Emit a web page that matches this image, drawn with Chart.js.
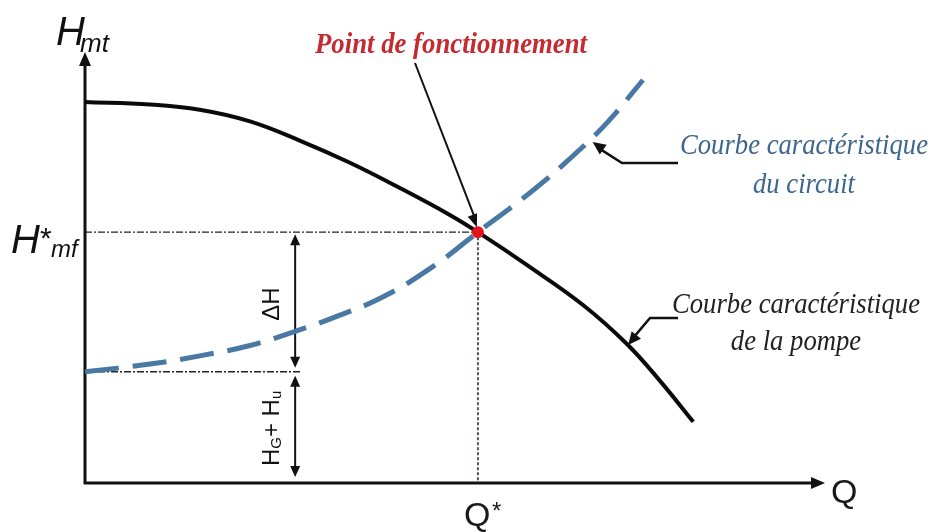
<!DOCTYPE html>
<html>
<head>
<meta charset="utf-8">
<script src="https://cdn.jsdelivr.net/npm/chart.js@4.4.1/dist/chart.umd.min.js"></script>
<style>
  html, body { margin: 0; background: #fff; }
</style>
</head>
<body>
<canvas id="chart" width="931" height="532"></canvas>
<script>
// Pump characteristic H(Q)
const pumpQ = [0, 8.8, 15.5, 22.3, 29.1, 35.8, 42.6, 49.3, 53.1, 59.7, 67.3, 73.2, 77.7, 82.2]
const pumpH = [88.4, 87.8, 86.6, 83.9, 79.4, 74.3, 68.4, 62.2, 58.2, 50.6, 41.3, 32.3, 23.7, 14.2]

// Circuit characteristic H(Q), starts at the static head HG + Hu
const circuitQ = [0, 8.8, 15.5, 22.3, 28.4, 33.5, 40.3, 47.0, 53.1, 60.1, 65.3, 70.5, 75.4]
const circuitH = [25.8, 27.6, 29.5, 31.9, 35.2, 38.3, 43.2, 50.2, 58.2, 67.3, 74.9, 83.5, 93.5]

// Operating point (Q*, H*mf)
const operatingPoint = [53.1, 58.2]

const labels = {
  point: "Point de fonctionnement",
  circuit: ["Courbe caractéristique", "du circuit"],
  pump: ["Courbe caractéristique", "de la pompe"]
}

const toXY = (qs, hs) => qs.map((q, i) => ({ x: q, y: hs[i] }))

function line(ctx, x1, y1, x2, y2) {
  ctx.beginPath()
  ctx.moveTo(x1, y1)
  ctx.lineTo(x2, y2)
  ctx.stroke()
}

// filled arrow head with its tip at (x, y), pointing along angle a
function head(ctx, x, y, a, len = 12, half = 5) {
  ctx.save()
  ctx.translate(x, y)
  ctx.rotate(a)
  ctx.beginPath()
  ctx.moveTo(0, 0)
  ctx.lineTo(-len, -half)
  ctx.lineTo(-len, half)
  ctx.closePath()
  ctx.fill()
  ctx.restore()
}

// centred text, squeezed horizontally by sx
function fitText(ctx, text, cx, cy, sx) {
  ctx.save()
  ctx.translate(cx, cy)
  ctx.scale(sx, 1)
  ctx.textAlign = "center"
  ctx.textBaseline = "middle"
  ctx.fillText(text, 0, 0)
  ctx.restore()
}

function twoLines(ctx, lines, cx, cy1, cy2, width, font, color) {
  ctx.font = font
  ctx.fillStyle = color
  const sx = width / ctx.measureText(lines[0]).width
  fitText(ctx, lines[0], cx, cy1, sx)
  fitText(ctx, lines[1], cx, cy2, sx)
}

const diagram = {
  id: "diagram",
  beforeDatasetsDraw(chart) {
    const { ctx, chartArea: area, scales: { x, y } } = chart
    const x0 = x.getPixelForValue(0), y0 = y.getPixelForValue(0)
    const px = x.getPixelForValue(operatingPoint[0])
    const py = y.getPixelForValue(operatingPoint[1])
    const hs = y.getPixelForValue(circuitH[0])
    const xa = x.getPixelForValue(28.4)

    ctx.save()
    // dash-dot guides at H*mf and at the static head
    ctx.strokeStyle = "#222"
    ctx.lineWidth = 1.4
    ctx.setLineDash([7, 2, 2, 2])
    line(ctx, x0, py, px, py)
    line(ctx, x0, hs, x.getPixelForValue(29.3), hs)
    // dotted drop to Q*
    ctx.setLineDash([3, 2])
    ctx.strokeStyle = "#4a5853"
    ctx.lineWidth = 2
    line(ctx, px, py, px, y0)
    ctx.setLineDash([])

    // axes
    ctx.strokeStyle = "#111"
    ctx.fillStyle = "#111"
    ctx.lineWidth = 3
    line(ctx, x0, y0 + 1, x0, area.top + 8)
    head(ctx, x0, area.top, -Math.PI / 2, 14, 6)
    line(ctx, x0 - 1, y0, area.right - 8, y0)
    head(ctx, area.right, y0, 0, 14, 6)

    // ΔH and HG + Hu dimension arrows
    ctx.lineWidth = 2
    line(ctx, xa, py + 10, xa, hs - 12)
    line(ctx, xa, hs + 12, xa, y0 - 14)
    head(ctx, xa, py + 2, -Math.PI / 2, 11, 5)
    head(ctx, xa, hs - 4, Math.PI / 2, 11, 5)
    head(ctx, xa, hs + 4, -Math.PI / 2, 11, 5)
    head(ctx, xa, y0 - 6, Math.PI / 2, 11, 5)
    ctx.restore()
  },
  afterDatasetsDraw(chart) {
    const { ctx, scales: { x, y } } = chart
    const px = x.getPixelForValue(operatingPoint[0])
    const py = y.getPixelForValue(operatingPoint[1])
    const hs = y.getPixelForValue(circuitH[0])
    const y0 = y.getPixelForValue(0)
    const xa = x.getPixelForValue(28.4)

    ctx.save()
    ctx.fillStyle = "#111"
    ctx.strokeStyle = "#111"

    // axis names
    ctx.textBaseline = "alphabetic"
    ctx.textAlign = "left"
    ctx.font = "italic 40px 'Liberation Sans'"
    ctx.fillText("H", 56, 45)
    ctx.font = "italic 26px 'Liberation Sans'"
    ctx.fillText("mt", 80, 52)

    ctx.font = "italic 40px 'Liberation Sans'"
    ctx.fillText("H", 11, py + 21)
    ctx.font = "30px 'Liberation Sans'"
    ctx.fillText("*", 40, py + 16)
    ctx.font = "italic 24px 'Liberation Sans'"
    ctx.fillText("mf", 51, py + 25)

    ctx.font = "34px 'Liberation Sans'"
    ctx.fillStyle = "#1a1a1a"
    ctx.fillText("Q", px - 14, y0 + 43)
    ctx.fillText("Q", 831, y0 + 20)
    ctx.font = "24px 'Liberation Sans'"
    ctx.fillText("*", px + 14, y0 + 36)

    // rotated ΔH and HG + Hu
    ctx.fillStyle = "#111"
    ctx.save()
    ctx.translate(xa - 23, (py + hs) / 2 + 2)
    ctx.rotate(-Math.PI / 2)
    ctx.font = "24px 'Liberation Sans'"
    ctx.textAlign = "center"
    ctx.textBaseline = "middle"
    ctx.fillText("ΔH", 0, 0)
    ctx.restore()

    ctx.save()
    ctx.translate(xa - 23, (hs + y0) / 2 + 1)
    ctx.rotate(-Math.PI / 2)
    ctx.textBaseline = "middle"
    const parts = [["H", 24, 0], ["G", 15, 5], ["+ ", 24, 0], ["H", 24, 0], ["u", 15, 5]]
    let w = 0
    parts.forEach(([t, s]) => { ctx.font = s + "px 'Liberation Sans'"; w += ctx.measureText(t).width })
    let cx = -w / 2
    parts.forEach(([t, s, dy]) => {
      ctx.font = s + "px 'Liberation Sans'"
      ctx.fillText(t, cx, dy)
      cx += ctx.measureText(t).width
    })
    ctx.restore()

    // callout to the operating point
    ctx.lineWidth = 2
    line(ctx, 415, 63, px - 3, py - 14)
    head(ctx, px - 1, py - 5, Math.atan2(py - 5 - 63, px - 1 - 415), 13, 5)

    // callout to the circuit curve
    const cTip = [x.getPixelForValue(68.6), y.getPixelForValue(79.1)]
    ctx.lineWidth = 2.5
    ctx.beginPath()
    ctx.moveTo(678, 163)
    ctx.lineTo(622, 163)
    ctx.lineTo(cTip[0] + 6, cTip[1] + 6)
    ctx.stroke()
    head(ctx, cTip[0], cTip[1], Math.atan2(cTip[1] - 163, cTip[0] - 622), 13, 6)

    // callout to the pump curve
    const pTip = [x.getPixelForValue(73.4), y.getPixelForValue(32.0)]
    ctx.beginPath()
    ctx.moveTo(678, 318)
    ctx.lineTo(650, 318)
    ctx.lineTo(pTip[0] + 4, pTip[1] - 6)
    ctx.stroke()
    head(ctx, pTip[0], pTip[1], Math.atan2(pTip[1] - 318, pTip[0] - 650), 13, 6)

    // text labels
    ctx.font = "bold italic 30px 'Liberation Serif'"
    ctx.fillStyle = "#c42a30"
    fitText(ctx, labels.point, 451, 45, 272 / ctx.measureText(labels.point).width)

    twoLines(ctx, labels.circuit, 804, 146, 185, 248, "italic 30px 'Liberation Serif'", "#3b6690")
    twoLines(ctx, labels.pump, 796, 305, 342, 248, "italic 30px 'Liberation Serif'", "#222")
    ctx.restore()
  }
}

new Chart(document.getElementById("chart"), {
  type: "scatter",
  data: {
    datasets: [
      {
        label: "Courbe caractéristique de la pompe",
        data: toXY(pumpQ, pumpH),
        showLine: true,
        borderColor: "#0a0a0a",
        borderWidth: 4,
        pointRadius: 0,
        tension: 0.4,
        order: 2
      },
      {
        label: "Courbe caractéristique du circuit",
        data: toXY(circuitQ, circuitH),
        showLine: true,
        borderColor: "#4a78a5",
        borderWidth: 5,
        borderDash: [34, 14],
        pointRadius: 0,
        tension: 0.4,
        order: 3
      },
      {
        label: "Point de fonctionnement",
        data: [{ x: operatingPoint[0], y: operatingPoint[1] }],
        pointRadius: 6,
        pointBackgroundColor: "#e5141c",
        pointBorderWidth: 0,
        order: 1
      }
    ]
  },
  options: {
    responsive: false,
    animation: false,
    layout: { padding: { left: 85, right: 106, top: 52, bottom: 49 } },
    plugins: { legend: { display: false }, tooltip: { enabled: false } },
    scales: {
      x: { type: "linear", min: 0, max: 100, display: false },
      y: { type: "linear", min: 0, max: 100, display: false }
    }
  },
  plugins: [diagram]
})
</script>
</body>
</html>
